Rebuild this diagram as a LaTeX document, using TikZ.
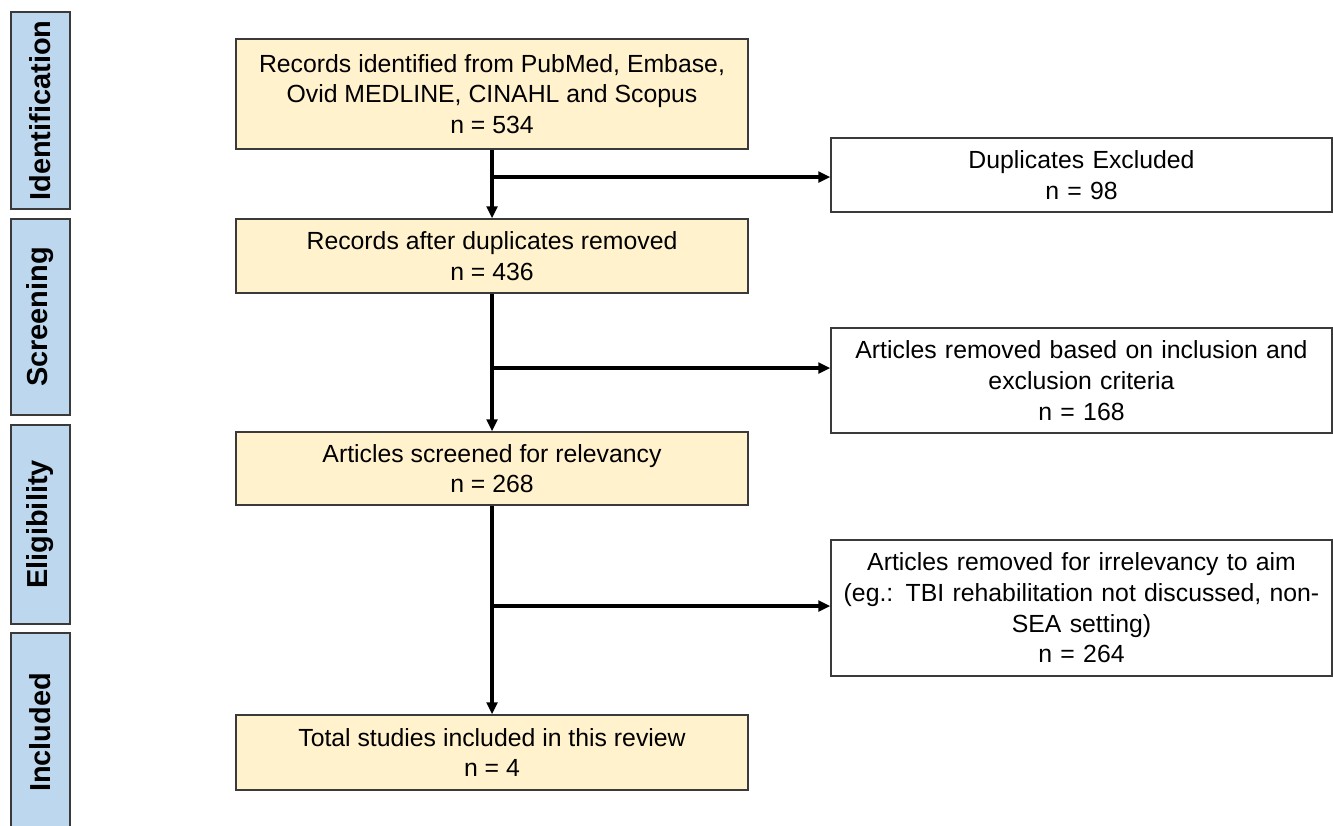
\documentclass[tikz,border=0pt]{standalone}
\usepackage{fontspec}
\setmainfont{Liberation Sans}
\usetikzlibrary{arrows.meta}
\definecolor{phasefill}{HTML}{BDD7EE}
\definecolor{boxfill}{HTML}{FFF2CC}
\definecolor{edgegray}{HTML}{3A3A3A}
\begin{document}
\begin{tikzpicture}[x=0.75pt,y=-0.75pt,
  phase/.style={draw=edgegray,line width=1pt,fill=phasefill,minimum width=59*0.75pt,inner sep=0pt},
  phasetext/.style={font=\fontsize{21.7}{25}\selectfont\bfseries,rotate=90},
  ybox/.style={draw=edgegray,line width=1pt,fill=boxfill,minimum width=512*0.75pt,align=center,inner sep=0pt,font=\fontsize{18.6}{23}\selectfont},
  wbox/.style={draw=edgegray,line width=1pt,fill=white,minimum width=501*0.75pt,text width=495*0.75pt,align=center,inner sep=0pt,font=\fontsize{18.6}{23}\selectfont},
  flow/.style={line width=2.3pt,-{Triangle[length=9pt,width=8pt]}}]
\useasboundingbox (0,0) rectangle (1333,825);
\begin{scope}
\clip (0,0) rectangle (1333,825);
% phase labels
\node[phase,minimum height=197*0.75pt] (p1) at (40.5,110.5) {};
\node[phasetext] (p1t) at (p1.center) {Identification};
\node[phase,minimum height=196*0.75pt] (p2) at (40.5,317) {};
\node[phasetext] (p2t) at (p2.center) {Screening};
\node[phase,minimum height=199*0.75pt] (p3) at (40.5,524.5) {};
\node[phasetext] (p3t) at (p3.center) {Eligibility};
\node[phase,minimum height=199*0.75pt] (p4) at (40.5,732.5) {};
\node[phasetext] (p4t) at (p4.center) {Included};
\end{scope}
% main boxes
\node[ybox,minimum height=110*0.75pt] (b1) at (492,94) {Records identified from PubMed, Embase,\\Ovid MEDLINE, CINAHL and Scopus\\n = 534};
\node[ybox,minimum height=74*0.75pt] (b2) at (492,256) {Records after duplicates removed\\n = 436};
\node[ybox,minimum height=73*0.75pt] (b3) at (492,468.5) {Articles screened for relevancy\\n = 268};
\node[ybox,minimum height=75*0.75pt] (b4) at (492,752.5) {Total studies included in this review\\n = 4};
% side boxes
\node[wbox,minimum height=74*0.75pt] (r1) at (1081.5,175) {Duplicates Excluded\\n = 98};
\node[wbox,minimum height=105*0.75pt] (r2) at (1081.5,380.5) {Articles removed based on inclusion and\\exclusion criteria\\n = 168};
\node[wbox,minimum height=136*0.75pt] (r3) at (1081.5,608) {Articles removed for irrelevancy to aim\\(eg.: TBI rehabilitation not discussed, non-\\SEA setting)\\n = 264};
% branch points
\coordinate (c1) at (492,177);
\coordinate (c2) at (492,368);
\coordinate (c3) at (492,606);
% connectors
\draw[flow] (b1) -- (b2);
\draw[flow] (b2) -- (b3);
\draw[flow] (b3) -- (b4);
\draw[flow] (c1) -- (c1 -| r1.west);
\draw[flow] (c2) -- (c2 -| r2.west);
\draw[flow] (c3) -- (c3 -| r3.west);
\end{tikzpicture}
\end{document}
